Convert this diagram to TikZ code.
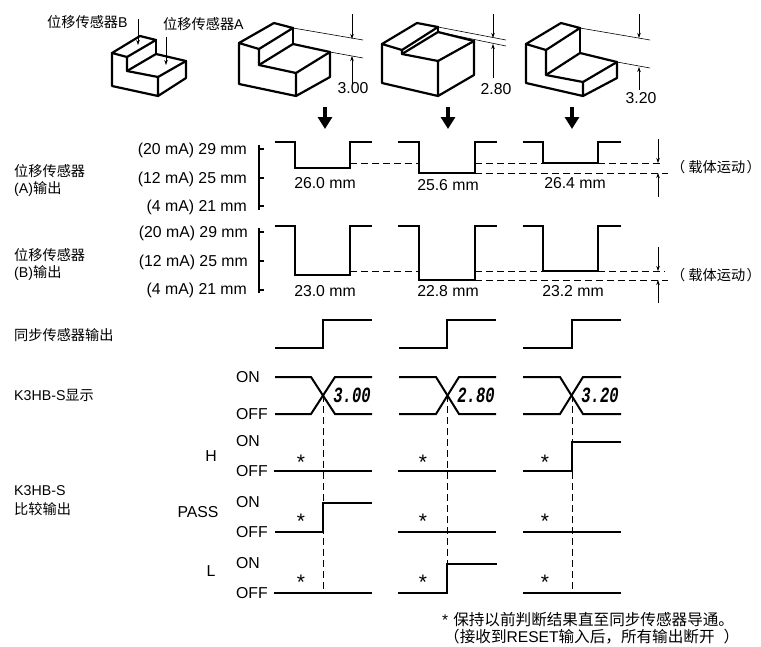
\documentclass[tikz,border=0pt]{standalone}
\usepackage{fontspec}
\setmainfont{Liberation Sans}
\newfontfamily\cjk{Noto Sans CJK SC}
\newfontfamily\segfont{Liberation Mono}
\usetikzlibrary{arrows.meta}
\newcommand{\digits}[1]{\scalebox{1}[1.4]{#1}}

\begin{document}
\begin{tikzpicture}[
	x=1pt, y=-1pt,
	b/.style = {line width=2.2pt, line join=round, line cap=round},
	w/.style = {line width=2pt, line join=miter},
	dl/.style = {line width=0.6pt, dash pattern=on 7pt off 4pt},
	tl/.style = {line width=0.6pt},
	da/.style = {line width=0.6pt, -{Stealth[length=5pt,width=3.5pt]}},
	ba/.style = {line width=4pt, -{Triangle[length=12pt,width=14pt]}},
	tx/.style = {font=\fontsize{15.8}{18}\selectfont, inner sep=0pt},
	cn/.style = {font=\fontsize{14.2}{17}\selectfont, inner sep=0pt, anchor=west},
	sg/.style = {font=\fontsize{15.5}{18}\segfont\bfseries\itshape, inner sep=0pt},
	as/.style = {font=\fontsize{21}{24}\selectfont, inner sep=0pt},
	ft/.style = {font=\fontsize{15.6}{18}\selectfont, inner sep=0pt, anchor=west}
	]
	\useasboundingbox (0, 0) rectangle (761, 646);
	
	%Blocks
	\draw[b]	(112, 53) -- (140, 36) -- (156, 40) -- (127, 57) -- cycle;
	\draw[b]	(112, 53) -- (112, 86) -- (158, 96) -- (186, 78) -- (186, 61) -- (158, 77) -- (158, 96);
	\draw[b]	(127, 57) -- (127, 71) -- (158, 77);
	\draw[b]	(127, 71) -- (156, 54) -- (186, 61);
	\draw[b]	(156, 40) -- (156, 54);
	
	\draw[b]	(239, 43) -- (274, 23) -- (293, 28) -- (259, 49) -- cycle;
	\draw[b]	(239, 43) -- (239, 84) -- (296, 96) -- (330, 77) -- (330, 52) -- (296, 73) -- (296, 96);
	\draw[b]	(259, 49) -- (259, 65) -- (296, 73);
	\draw[b]	(259, 65) -- (293, 44) -- (330, 52);
	\draw[b]	(293, 28) -- (293, 44);
	
	\draw[b]	(382, 44) -- (417, 23) -- (438, 27) -- (402, 50) -- cycle;
	\draw[b]	(382, 44) -- (382, 83) -- (438, 96) -- (474, 75) -- (474, 41) -- (438, 61) -- (438, 96);
	\draw[b]	(402, 50) -- (402, 54) -- (438, 61);
	\draw[b]	(402, 54) -- (438, 32) -- (474, 41);
	\draw[b]	(438, 27) -- (438, 32);
	
	\draw[b]	(526, 44) -- (561, 23) -- (580, 28) -- (546, 50) -- cycle;
	\draw[b]	(526, 44) -- (526, 83) -- (583, 96) -- (617, 78) -- (617, 62) -- (583, 82) -- (583, 96);
	\draw[b]	(546, 50) -- (546, 75) -- (583, 82);
	\draw[b]	(546, 75) -- (580, 53) -- (617, 62);
	\draw[b]	(580, 28) -- (580, 53);
	
	%Dimension lines
	\draw[tl]	(293, 28) -- (363, 40);
	\draw[tl]	(330, 52) -- (363, 58);
	\draw[tl]	(438, 27) -- (506, 40);
	\draw[tl]	(438, 32) -- (506, 46);
	\draw[tl]	(580, 28) -- (650, 40);
	\draw[tl]	(617, 62) -- (650, 68);
	
	%Coordinates
	\coordinate	(pb1)	at	(138, 19);
	\coordinate	(pb2)	at	(138, 45);
	\coordinate	(pa1)	at	(166, 37);
	\coordinate	(pa2)	at	(166, 65);
	\coordinate	(d1a)	at	(352, 14);
	\coordinate	(d1b)	at	(352, 39);
	\coordinate	(d1c)	at	(352, 84);
	\coordinate	(d1d)	at	(352, 56);
	\coordinate	(d2a)	at	(493, 14);
	\coordinate	(d2b)	at	(493, 38);
	\coordinate	(d2c)	at	(493, 78);
	\coordinate	(d2d)	at	(493, 44);
	\coordinate	(d3a)	at	(639, 14);
	\coordinate	(d3b)	at	(639, 38);
	\coordinate	(d3c)	at	(639, 90);
	\coordinate	(d3d)	at	(639, 67);
	\coordinate	(m1a)	at	(325, 107);
	\coordinate	(m1b)	at	(325, 129);
	\coordinate	(m2a)	at	(448, 107);
	\coordinate	(m2b)	at	(448, 129);
	\coordinate	(m3a)	at	(572, 107);
	\coordinate	(m3b)	at	(572, 129);
	\coordinate	(ua)	at	(658, 139);
	\coordinate	(ub)	at	(658, 163);
	\coordinate	(uc)	at	(658, 197);
	\coordinate	(ud)	at	(658, 173);
	\coordinate	(va)	at	(658, 247);
	\coordinate	(vb)	at	(658, 271);
	\coordinate	(vc)	at	(658, 303);
	\coordinate	(vd)	at	(658, 280);
	
	%Arrows
	\draw[da]	(pb1) -- (pb2);
	\draw[da]	(pa1) -- (pa2);
	\draw[da]	(d1a) -- (d1b);
	\draw[da]	(d1c) -- (d1d);
	\draw[da]	(d2a) -- (d2b);
	\draw[da]	(d2c) -- (d2d);
	\draw[da]	(d3a) -- (d3b);
	\draw[da]	(d3c) -- (d3d);
	\draw[ba]	(m1a) -- (m1b);
	\draw[ba]	(m2a) -- (m2b);
	\draw[ba]	(m3a) -- (m3b);
	\draw[da]	(ua) -- (ub);
	\draw[da]	(uc) -- (ud);
	\draw[da]	(va) -- (vb);
	\draw[da]	(vc) -- (vd);
	
	%Dashes
	\draw[dl]	(350, 163) -- (419, 163);
	\draw[dl]	(475, 163) -- (543, 163);
	\draw[dl]	(598, 163) -- (663, 163);
	\draw[dl]	(475, 173) -- (668, 173);
	\draw[dl]	(350, 271) -- (419, 271);
	\draw[dl]	(475, 271) -- (543, 271);
	\draw[dl]	(598, 271) -- (665, 271);
	\draw[dl]	(475, 280) -- (668, 280);
	\draw[dl]	(323, 395) -- (323, 593);
	\draw[dl]	(447, 395) -- (447, 564);
	\draw[dl]	(572, 395) -- (572, 593);
	
	%Scales
	\draw[w]	(259, 145) -- (259, 210);
	\draw[w]	(259, 149) -- (264, 149);
	\draw[w]	(259, 178) -- (264, 178);
	\draw[w]	(259, 206) -- (264, 206);
	\draw[w]	(259, 228) -- (259, 293);
	\draw[w]	(259, 232) -- (264, 232);
	\draw[w]	(259, 261) -- (264, 261);
	\draw[w]	(259, 290) -- (264, 290);
	
	%Waves
	\draw[w]	(275, 142) -| (295, 168) -| (350, 142) -- (372, 142);
	\draw[w]	(398, 142) -| (419, 173) -| (475, 142) -- (497, 142);
	\draw[w]	(523, 142) -| (543, 163) -| (598, 142) -- (621, 142);
	\draw[w]	(275, 226) -| (295, 275) -| (350, 226) -- (372, 226);
	\draw[w]	(398, 226) -| (419, 280) -| (475, 226) -- (497, 226);
	\draw[w]	(523, 226) -| (543, 271) -| (598, 226) -- (621, 226);
	
	\draw[w]	(275, 348) -| (323, 320) -- (372, 320);
	\draw[w]	(399, 348) -| (447, 320) -- (496, 320);
	\draw[w]	(523, 348) -| (572, 320) -- (621, 320);
	
	\draw[w]	(275, 377) -- (311, 377) -- (335, 414) -- (372, 414);
	\draw[w]	(275, 414) -- (311, 414) -- (335, 377) -- (372, 377);
	\draw[w]	(399, 377) -- (436, 377) -- (459, 414) -- (496, 414);
	\draw[w]	(399, 414) -- (436, 414) -- (459, 377) -- (496, 377);
	\draw[w]	(523, 377) -- (560, 377) -- (583, 414) -- (621, 414);
	\draw[w]	(523, 414) -- (560, 414) -- (583, 377) -- (621, 377);
	
	\draw[w]	(274, 471) -- (372, 471);
	\draw[w]	(398, 471) -- (496, 471);
	\draw[w]	(523, 471) -| (572, 442) -- (621, 442);
	\draw[w]	(275, 532) -| (323, 503) -- (372, 503);
	\draw[w]	(398, 532) -- (496, 532);
	\draw[w]	(523, 532) -- (621, 532);
	\draw[w]	(274, 593) -- (372, 593);
	\draw[w]	(398, 593) -| (447, 564) -- (497, 564);
	\draw[w]	(523, 593) -- (621, 593);
	
	%Nodes
	\node[cn]	(sb)	at	(47, 22)	{{\cjk 位移传感器}B};
	\node[cn]	(sa)	at	(163, 24)	{{\cjk 位移传感器}A};
	\node[tx]	(v1)	at	(353, 88)	{3.00};
	\node[tx]	(v2)	at	(496, 89)	{2.80};
	\node[tx]	(v3)	at	(641, 98)	{3.20};
	
	\node[cn]	(oa1)	at	(14, 171)	{\cjk 位移传感器};
	\node[cn]	(oa2)	at	(14, 189)	{(A){\cjk 输出}};
	\node[cn]	(ob1)	at	(14, 255)	{\cjk 位移传感器};
	\node[cn]	(ob2)	at	(14, 273)	{(B){\cjk 输出}};
	\node[cn]	(sy)	at	(14, 335)	{\cjk 同步传感器输出};
	\node[cn]	(kd)	at	(14, 395)	{K3HB-S{\cjk 显示}};
	\node[cn]	(kc1)	at	(14, 491)	{K3HB-S};
	\node[cn]	(kc2)	at	(14, 509)	{\cjk 比较输出};
	
	\node[tx, anchor=east]	(a20)	at	(247, 150)	{(20 mA) 29 mm};
	\node[tx, anchor=east]	(a12)	at	(247, 179)	{(12 mA) 25 mm};
	\node[tx, anchor=east]	(a4)	at	(247, 207)	{(4 mA) 21 mm};
	\node[tx, anchor=east]	(b20)	at	(248, 233)	{(20 mA) 29 mm};
	\node[tx, anchor=east]	(b12)	at	(248, 262)	{(12 mA) 25 mm};
	\node[tx, anchor=east]	(b4)	at	(247, 290)	{(4 mA) 21 mm};
	
	\node[tx]	(ra1)	at	(325, 183)	{26.0 mm};
	\node[tx]	(ra2)	at	(448, 185)	{25.6 mm};
	\node[tx]	(ra3)	at	(575, 183)	{26.4 mm};
	\node[tx]	(rb1)	at	(325, 291)	{23.0 mm};
	\node[tx]	(rb2)	at	(448, 291)	{22.8 mm};
	\node[tx]	(rb3)	at	(573, 291)	{23.2 mm};
	
	\node[cn]	(ca)	at	(671, 167)	{\cjk （\hspace{3pt}载体运动\hspace{1.5pt}）};
	\node[cn]	(cb)	at	(671, 275)	{\cjk （\hspace{3pt}载体运动\hspace{1.5pt}）};
	
	\node[sg]	(g1)	at	(352, 395)	{\digits{3.00}};
	\node[sg]	(g2)	at	(476, 395)	{\digits{2.80}};
	\node[sg]	(g3)	at	(600, 395)	{\digits{3.20}};
	
	\node[tx, anchor=west]	(on1)	at	(236, 377)	{ON};
	\node[tx, anchor=west]	(of1)	at	(236, 414)	{OFF};
	\node[tx, anchor=west]	(on2)	at	(236, 441)	{ON};
	\node[tx, anchor=west]	(of2)	at	(236, 471)	{OFF};
	\node[tx, anchor=west]	(on3)	at	(236, 502)	{ON};
	\node[tx, anchor=west]	(of3)	at	(236, 532)	{OFF};
	\node[tx, anchor=west]	(on4)	at	(236, 563)	{ON};
	\node[tx, anchor=west]	(of4)	at	(236, 593)	{OFF};
	
	\node[tx]	(hh)	at	(211, 456)	{H};
	\node[tx]	(pp)	at	(198, 512)	{PASS};
	\node[tx]	(ll)	at	(211, 571)	{L};
	
	\node[as]	(s11)	at	(301, 462.5)	{*};
	\node[as]	(s12)	at	(423, 462.5)	{*};
	\node[as]	(s13)	at	(545, 462.5)	{*};
	\node[as]	(s21)	at	(301, 521.5)	{*};
	\node[as]	(s22)	at	(423, 521.5)	{*};
	\node[as]	(s23)	at	(545, 521.5)	{*};
	\node[as]	(s31)	at	(301, 582.5)	{*};
	\node[as]	(s32)	at	(423, 582.5)	{*};
	\node[as]	(s33)	at	(545, 582.5)	{*};
	
	\node[ft]	(n1)	at	(442, 620)	{*\hspace{5pt}{\cjk 保持以前判断结果直至同步传感器导通。}};
	\node[ft]	(n2)	at	(444, 636.5)	{{\cjk （接收到}RESET{\cjk 输入后，所有输出断开\hspace{9pt}）}};
\end{tikzpicture}
\end{document}
